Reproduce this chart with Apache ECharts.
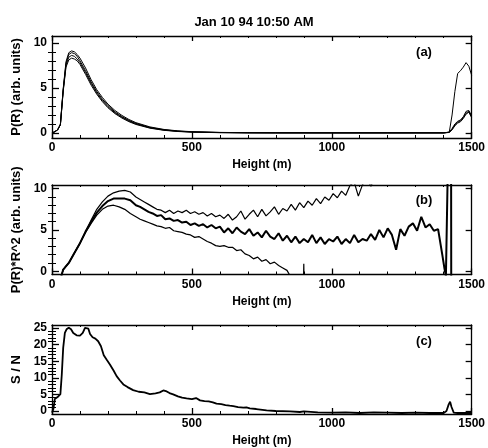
<!DOCTYPE html>
<html>
<head>
<meta charset="utf-8">
<script src="https://cdn.jsdelivr.net/npm/echarts@6/dist/echarts.min.js"></script>
<style>
  html, body { margin: 0; padding: 0; background: #fff; }
  #chart { width: 488px; height: 448px; }
</style>
</head>
<body>
<div id="chart"></div>
<script>
// ---- data ----
const xTicks = [0, 500, 1000, 1500];

// (a) P(R), four profiles
const heightsA = [0, 10, 20, 30, 40, 50, 60, 70, 80, 90, 100, 120, 140, 160, 180, 200, 225, 250, 275, 300,
  350, 400, 450, 500, 600, 700, 800, 1000, 1200, 1400, 1420, 1430, 1440, 1450, 1460, 1470, 1480, 1490, 1500];
const profileA1 = [0, 0.15, 0.35, 1.0, 4.9, 7.9, 8.9, 9.1, 9.0, 8.7, 8.3, 7.2, 5.9, 4.8, 3.95, 3.2, 2.5, 1.95, 1.5, 1.15,
  0.68, 0.4, 0.24, 0.15, 0.07, 0.04, 0.03, 0.02, 0.02, 0.02, 0.1, 2.0, 4.6, 6.6, 6.9, 7.3, 7.8, 7.4, 6.4];
const profileA2 = [0, 0.15, 0.35, 0.95, 4.8, 7.7, 8.7, 8.9, 8.8, 8.5, 8.0, 6.9, 5.65, 4.6, 3.75, 3.05, 2.35, 1.82, 1.4, 1.07,
  0.62, 0.36, 0.21, 0.13, 0.06, 0.03, 0.02, 0.02, 0.02, 0.02, 0.1, 0.5, 1.0, 1.3, 1.45, 1.8, 2.4, 2.5, 1.9];
const profileA3 = [0, 0.15, 0.35, 0.9, 4.7, 7.5, 8.4, 8.6, 8.5, 8.2, 7.8, 6.7, 5.5, 4.45, 3.6, 2.92, 2.25, 1.74, 1.33, 1.01,
  0.58, 0.33, 0.19, 0.11, 0.05, 0.03, 0.02, 0.02, 0.02, 0.02, 0.08, 0.4, 0.9, 1.2, 1.35, 1.7, 2.2, 2.4, 1.8];
const profileA4 = [0, 0.15, 0.35, 0.9, 4.6, 7.3, 8.1, 8.3, 8.2, 8.0, 7.6, 6.5, 5.3, 4.3, 3.48, 2.8, 2.15, 1.66, 1.26, 0.95,
  0.54, 0.3, 0.17, 0.1, 0.04, 0.02, 0.02, 0.02, 0.02, 0.02, 0.06, 0.35, 0.8, 1.1, 1.25, 1.6, 2.1, 2.3, 1.7];

// (b) P(R)*R^2, upper / middle / lower
const heightsB = [0, 30, 40, 60, 80, 100, 120, 140, 160, 180, 200, 220, 240, 260, 280,
  300, 315, 330, 345, 360, 375, 390, 405, 420, 435, 450, 465, 480, 495, 510, 525, 540, 555, 570, 585,
  600, 615, 630, 645, 660, 675, 690, 705, 720, 735, 750, 765, 780, 795, 810, 825, 840, 855, 870, 885,
  900, 915, 930, 945, 960, 975, 990, 1005, 1020, 1035, 1050, 1065, 1080, 1095, 1110, 1125, 1140, 1155, 1170, 1185,
  1200, 1215, 1230, 1245, 1260, 1275, 1290, 1305, 1320, 1335, 1350, 1365, 1380, 1395,
  1403, 1408, 1415, 1426, 1428, 1500];
const middleB = [-1, -1, 0.2, 1.0, 2.2, 3.4, 4.8, 6.0, 7.1, 7.9, 8.5, 8.8, 8.8, 8.8, 8.6,
  8.0, 7.8, 7.5, 7.2, 7.0, 6.7, 6.8, 6.3, 6.4, 6.1, 6.2, 5.9, 6.0, 5.6, 5.8, 5.5, 5.7, 5.3, 5.6, 5.2,
  5.4, 4.7, 5.2, 4.6, 5.3, 4.8, 4.5, 5.1, 4.3, 4.7, 4.1, 4.9, 4.2, 3.9, 4.6, 3.7, 4.3, 3.5, 4.2, 3.4,
  3.9, 3.5, 4.4, 3.4, 4.1, 3.3, 3.9, 3.6, 4.2, 3.3, 3.9, 3.4, 4.4, 3.5, 3.9, 3.7, 4.5, 3.8, 5.0, 4.1,
  5.2, 4.4, 2.6, 5.1, 4.3, 5.4, 5.8, 4.9, 6.6, 5.3, 5.7, 4.9, 5.1, 2.0,
  0.3, -0.6, 13, 30, -30, -30];
const upperB = [-1, -1, 0.2, 1.0, 2.2, 3.4, 4.8, 6.2, 7.5, 8.4, 9.1, 9.5, 9.7, 9.8, 9.6,
  9.0, 8.7, 8.4, 8.1, 7.8, 7.5, 7.4, 7.1, 7.4, 7.0, 7.3, 7.1, 7.4, 7.0, 7.2, 6.9, 7.1, 6.7, 7.0, 6.6,
  6.8, 6.4, 6.9, 6.2, 6.6, 7.3, 6.3, 6.9, 7.4, 6.6, 7.5, 6.7, 7.2, 7.8, 6.9, 7.6, 7.3, 8.1, 7.4, 8.3,
  7.7, 8.5, 8.0, 8.8, 8.2, 9.0, 8.6, 9.4, 8.9, 9.7, 9.2, 10.4, 10.8, 9.1, 10.5, 11.2, 10.3, 11.5, 12, 13,
  null, null, null, null, null, null, null, null, null, null, null, null, null, null,
  null, null, null, null, null, null];
const lowerB = [-1, -1, 0.2, 1.0, 2.2, 3.4, 4.7, 5.8, 6.8, 7.5, 7.9, 8.0, 7.8, 7.5, 7.0,
  6.6, 6.3, 6.1, 5.9, 5.7, 5.5, 5.4, 5.2, 5.3, 4.9, 4.8, 4.7, 4.5, 4.4, 4.1, 4.2, 3.9, 3.6, 3.4, 3.1,
  3.0, 3.1, 2.9, 2.9, 2.5, 2.6, 2.1, 1.9, 1.5, 1.7, 1.2, 1.4, 0.9, 1.1, 0.7, 0.4, 0.1, -0.8, -3, -30,
  0.9, -30, null, null, null, null, null, null, null, null, null, null, null, null, null, null, null, null, null, null,
  null, null, null, null, null, null, null, null, null, null, null, null, null, null,
  null, null, null, null, null, null];

// (c) S / N
const heightsC = [0, 5, 10, 20, 30, 35, 40, 46, 52, 60, 68, 76, 88, 100, 110, 118, 124, 130, 136, 145,
  155, 165, 175, 185, 195, 207, 220, 231, 243, 255, 270, 290, 310, 330, 350, 370, 385, 398, 410, 420,
  433, 450, 465, 481, 500, 515, 529, 545, 560, 575, 588, 605, 620, 635, 648, 665, 684, 695, 707, 730,
  767, 800, 850, 886, 900, 950, 1000, 1050, 1100, 1150, 1200, 1250, 1300, 1350, 1400, 1410, 1418, 1423, 1428, 1436,
  1450, 1500];
const snrC = [-0.5, 0.6, 3.6, 4.2, 5.1, 11, 19, 23.5, 24.6, 25.1, 24.6, 23.5, 22.8, 22.7, 23.5, 25.0, 25.6, 24.8, 23.2, 22.2,
  21.8, 21.0, 19.5, 16.8, 15.5, 14.0, 12.2, 10.5, 9.2, 8.0, 7.2, 6.3, 5.8, 5.6, 5.1, 5.3, 5.6, 6.2, 5.9, 5.4,
  5.0, 4.4, 4.0, 3.8, 3.6, 3.9, 3.2, 3.0, 2.9, 2.6, 2.2, 2.1, 1.8, 1.6, 1.5, 1.2, 1.0, 1.1, 0.8, 0.6,
  0.2, 0.0, -0.1, -0.3, -0.1, -0.4, -0.5, -0.4, -0.6, -0.4, -0.5, -0.6, -0.5, -0.6, -0.6, 0.0, 2.0, 2.8, 1.2, -0.5,
  -0.6, -0.6];

const majorA = [0, 5, 10];
const minorA = [1, 2, 3, 4, 6, 7, 8, 9];
const majorC = [0, 5, 10, 15, 20, 25];
const minorC = [1, 2, 3, 4, 6, 7, 8, 9, 11, 12, 13, 14, 16, 17, 18, 19, 21, 22, 23, 24];

// ---- layout ----
const FONT = '"Liberation Sans", Arial, Helvetica, sans-serif';
const panels = [
  { top: 36, height: 102, min: -0.55, max: 10.75, major: majorA, minor: minorA, name: 'P(R) (arb. units)', nameGap: 29, tag: '(a)', tagY: 52 },
  { top: 185, height: 89.5, min: -0.4, max: 10.45, major: majorA, minor: minorA, name: 'P(R)*R^2 (arb. units)', nameGap: 29, tag: '(b)', tagY: 200 },
  { top: 325, height: 90, min: -0.9, max: 25.9, major: majorC, minor: minorC, name: 'S / N', nameGap: 21, tag: '(c)', tagY: 341 }
];

const zip = (xs, ys) => xs.map((x, i) => [x, ys[i]]);
const black = { color: '#000', width: 1.3 };
const labelStyle = { color: '#000', fontSize: 12, fontWeight: 'bold', fontFamily: FONT };

const grid = [], xAxis = [], yAxis = [], graphic = [];
panels.forEach((p, gi) => {
  grid.push({ left: 52, right: 16, top: p.top, height: p.height });

  const xb = { gridIndex: gi, type: 'value', min: xTicks[0], max: xTicks[xTicks.length - 1], interval: 500, splitLine: { show: false } };
  xAxis.push({
    ...xb, position: 'bottom',
    axisLine: { show: true, onZero: false, lineStyle: black },
    axisTick: { show: true, inside: true, length: 6, lineStyle: black },
    minorTick: { show: true, splitNumber: 5, length: 3, lineStyle: { color: '#000', width: 1 } },
    axisLabel: { ...labelStyle, margin: 4, showMinLabel: true, showMaxLabel: true, formatter: v => String(v) },
    name: 'Height (m)', nameLocation: 'middle', nameGap: 21,
    nameTextStyle: labelStyle
  });
  xAxis.push({
    ...xb, position: 'top',
    axisLine: { show: true, onZero: false, lineStyle: black },
    axisTick: { show: true, inside: true, length: 5, lineStyle: black },
    minorTick: { show: true, splitNumber: 5, length: 2, lineStyle: { color: '#000', width: 1 } },
    axisLabel: { show: false }
  });

  const yb = { gridIndex: gi, type: 'value', min: p.min, max: p.max, splitLine: { show: false } };
  yAxis.push({
    ...yb, position: 'left',
    axisLine: { show: true, onZero: false, lineStyle: black },
    axisTick: { show: true, inside: true, length: 7, customValues: p.major, lineStyle: black },
    axisLabel: { ...labelStyle, show: true, customValues: p.major, margin: 5 },
    name: p.name, nameLocation: 'middle', nameGap: p.nameGap,
    nameTextStyle: { ...labelStyle, fontSize: 13 }
  });
  yAxis.push({
    ...yb, position: 'left', axisLine: { show: false },
    axisTick: { show: true, inside: true, length: 4, customValues: p.minor, lineStyle: { color: '#000', width: 1 } },
    axisLabel: { show: false }
  });
  yAxis.push({
    ...yb, position: 'right',
    axisLine: { show: true, onZero: false, lineStyle: black },
    axisTick: { show: true, inside: true, length: 6, customValues: p.major, lineStyle: black },
    axisLabel: { show: false }
  });
  yAxis.push({
    ...yb, position: 'right', axisLine: { show: false },
    axisTick: { show: true, inside: true, length: 4, customValues: p.minor, lineStyle: { color: '#000', width: 1 } },
    axisLabel: { show: false }
  });

  graphic.push({
    type: 'text', x: 424, y: p.tagY,
    style: { text: p.tag, fill: '#000', font: 'bold 13px ' + FONT, textAlign: 'center', textVerticalAlign: 'middle' }
  });
});

graphic.push({
  type: 'text', x: 254, y: 22,
  style: { text: 'Jan 10 94 10:50 AM', fill: '#000', font: 'bold 13px ' + FONT, textAlign: 'center', textVerticalAlign: 'middle' }
});

const line = (gi, data, width) => ({
  type: 'line', xAxisIndex: gi * 2, yAxisIndex: gi * 4, data: data,
  showSymbol: false, symbol: 'none', connectNulls: false, clip: true, silent: true,
  lineStyle: { color: '#000', width: width }
});

const option = {
  animation: false,
  backgroundColor: '#fff',
  grid: grid,
  xAxis: xAxis,
  yAxis: yAxis,
  graphic: graphic,
  series: [
    line(0, zip(heightsA, profileA1), 1),
    line(0, zip(heightsA, profileA2), 1),
    line(0, zip(heightsA, profileA3), 1),
    line(0, zip(heightsA, profileA4), 1),
    line(1, zip(heightsB, upperB), 1.2),
    line(1, zip(heightsB, middleB), 2),
    line(1, zip(heightsB, lowerB), 1.2),
    line(2, zip(heightsC, snrC), 1.8)
  ]
};

const chart = echarts.init(document.getElementById('chart'));
chart.setOption(option);
</script>
</body>
</html>
